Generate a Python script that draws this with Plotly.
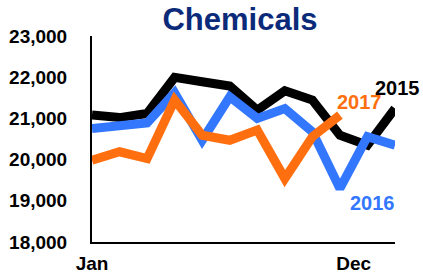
import plotly.graph_objects as go

months = list(range(1, 13))
tick_labels = ["Jan", "Dec"]
y_ticks = [18000, 19000, 20000, 21000, 22000, 23000]

s2015 = [21080, 21020, 21120, 21995, 21890, 21785, 21200, 21670, 21445, 20590, 20350, 21240]
s2016 = [20755, 20800, 20890, 21620, 20470, 21525, 21000, 21240, 20675, 19300, 20555, 20350]
s2017 = [19985, 20190, 20025, 21445, 20590, 20470, 20715, 19540, 20555, 21080]

series = [
    ("2015", s2015, "#000000"),
    ("2016", s2016, "#3377ff"),
    ("2017", s2017, "#ff6f0f"),
]
# label anchor positions (paper fractions of the plot area)
label_pos = {"2015": (1.008, 0.748), "2017": (0.884, 0.680), "2016": (0.926, 0.189)}

FONT = "Liberation Sans, Arial, sans-serif"

fig = go.Figure()
for name, vals, color in series:
    fig.add_trace(go.Scatter(
        x=months[:len(vals)], y=vals, mode="lines", name=name,
        line=dict(color=color, width=9), cliponaxis=False, showlegend=False))
    lx, ly = label_pos[name]
    fig.add_annotation(x=lx, y=ly, xref="paper", yref="paper",
                       text="<b>%s</b>" % name, showarrow=False,
                       font=dict(family=FONT, size=20, color=color),
                       xanchor="center", yanchor="middle")

fig.update_layout(
    width=423, height=273,
    margin=dict(l=92, r=28, t=36, b=31, autoexpand=False),
    paper_bgcolor="white", plot_bgcolor="white",
    title=dict(text="<b>Chemicals</b>", x=240/423, xanchor="center",
               y=1 - 19/273, yanchor="middle", automargin=False,
               font=dict(family=FONT, size=31, color="#0b2a7a")),
    xaxis=dict(range=[1, 12], tickvals=[1, 10.5], ticktext=tick_labels,
               automargin=False,
               showgrid=False, zeroline=False, showline=True, linecolor="black",
               linewidth=2, ticks="", ticklabelstandoff=3,
               tickfont=dict(family=FONT, size=19, color="black", weight="bold")),
    yaxis=dict(range=[18000, 23000], tickvals=y_ticks, automargin=False,
               ticktext=["{:,}".format(v) for v in y_ticks],
               showgrid=False, zeroline=False, showline=True, linecolor="black",
               linewidth=2, ticks="", ticklabelstandoff=19,
               tickfont=dict(family=FONT, size=19, color="black", weight="bold")),
)

fig.write_html("out.html", config={"displayModeBar": False},
               post_script="document.body.style.margin='0';")
